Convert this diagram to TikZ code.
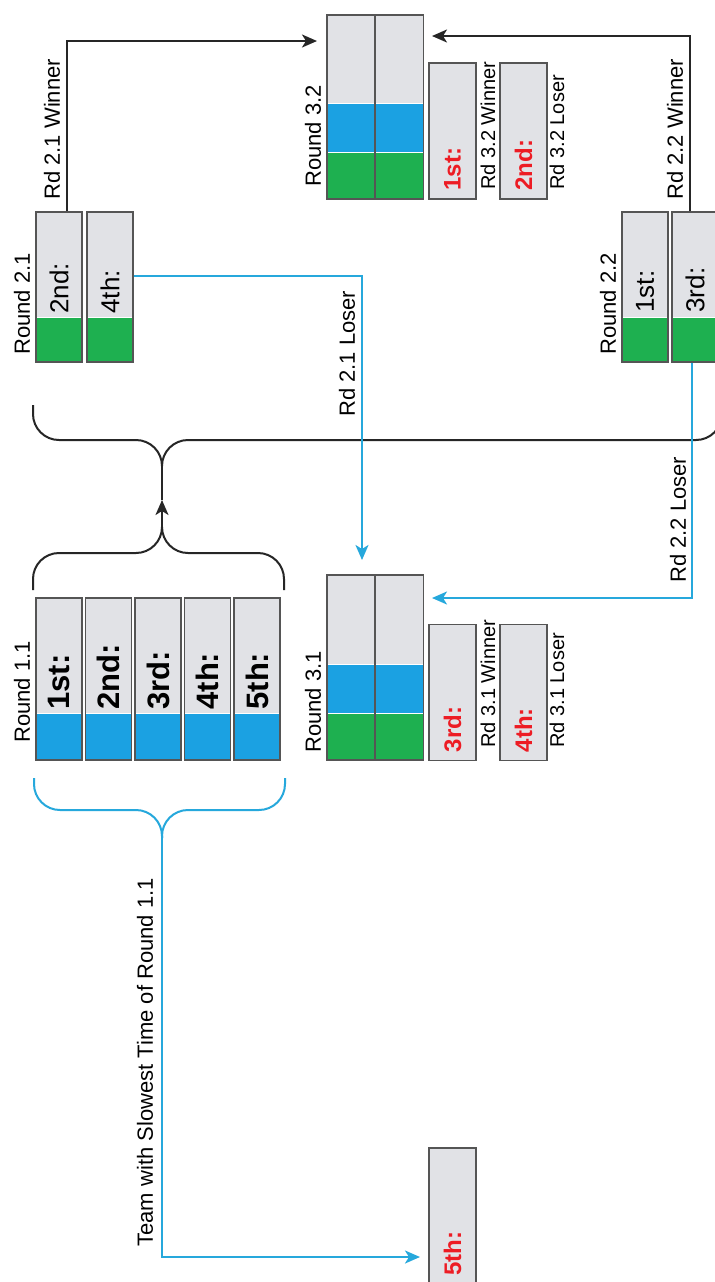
\documentclass[tikz,border=0pt]{standalone}
\usepackage{fontspec}
\setmainfont{Liberation Sans}
\usetikzlibrary{arrows.meta}
\definecolor{boxgray}{RGB}{225, 226, 230}
\definecolor{edgegray}{RGB}{85, 85, 85}
\definecolor{teamblue}{RGB}{27, 161, 226}
\definecolor{teamgreen}{RGB}{30, 176, 80}
\definecolor{linkblue}{RGB}{38, 168, 220}
\definecolor{placered}{RGB}{237, 28, 36}

\tikzset{
    slot/.style={draw=edgegray, line width=0.9pt, fill=boxgray, inner sep=0pt, minimum width=23pt},
    band/.style 2 args={path picture={
        \fill[#1] (path picture bounding box.south west) rectangle ([yshift=#2]path picture bounding box.south east);
        \draw[white, line width=0.5pt] ([yshift=#2]path picture bounding box.south west) -- ([yshift=#2]path picture bounding box.south east);
    }},
    duoband/.style={path picture={
        \fill[teamblue] (path picture bounding box.south west) rectangle ([yshift=48pt]path picture bounding box.south east);
        \fill[teamgreen] (path picture bounding box.south west) rectangle ([yshift=23.5pt]path picture bounding box.south east);
        \draw[white, line width=0.5pt] ([yshift=48pt]path picture bounding box.south west) -- ([yshift=48pt]path picture bounding box.south east);
        \draw[white, line width=0.5pt] ([yshift=23.5pt]path picture bounding box.south west) -- ([yshift=23.5pt]path picture bounding box.south east);
    }},
    turned/.style={rotate=90, anchor=west, inner sep=0pt},
    tag/.style={turned, font=\fontsize{11}{13}\selectfont},
    note/.style={turned, font=\fontsize{10}{12}\selectfont},
    seat/.style={turned, font=\fontsize{13}{15}\selectfont},
    heat/.style={turned, font=\bfseries\fontsize{15.5}{17}\selectfont},
    prize/.style={turned, text=placered, font=\bfseries\fontsize{12}{14}\selectfont},
    winline/.style={draw=black!85, line width=1pt, -{Stealth[length=7.5pt, width=6.5pt, inset=2pt]}},
    loseline/.style={draw=linkblue, line width=1pt, -{Stealth[length=7.5pt, width=6.5pt, inset=2pt]}},
    brace/.style={draw=black!85, line width=1pt, rounded corners=13pt},
}

\begin{document}
\begin{tikzpicture}[x=0.5pt, y=-0.5pt]
\path[use as bounding box, fill=white] (0,0) rectangle (715,1282);

% Round 1.1
\foreach \n/\x/\place in {1/59/1st:, 2/108.5/2nd:, 3/158/3rd:, 4/207.5/4th:, 5/257/5th:} {
    \node[slot, band={teamblue}{23.5pt}, minimum height=81pt] (r11-\n) at (\x,679) {};
    \node[heat] (r11-\n-t) at ([yshift=25.5pt]r11-\n.south) {\place};
}
\node[tag] (r11-name) at (22,743) {Round 1.1};

% Round 2.1 and Round 2.2
\foreach \n/\x/\place in {1/59/2nd:, 2/110/4th:} {
    \node[slot, band={teamgreen}{22.5pt}, minimum height=75pt] (r21-\n) at (\x,287) {};
    \node[seat] (r21-\n-t) at ([yshift=24.5pt]r21-\n.south) {\place};
}
\foreach \n/\x/\place in {1/645/1st:, 2/695/3rd:} {
    \node[slot, band={teamgreen}{22.5pt}, minimum height=75pt] (r22-\n) at (\x,287) {};
    \node[seat] (r22-\n-t) at ([yshift=25pt]r22-\n.south) {\place};
}
\node[tag] (r21-name) at (22,355) {Round 2.1};
\node[tag] (r22-name) at (608,355) {Round 2.2};

% Round 3.1 and Round 3.2
\foreach \n/\x in {1/351, 2/399.5} {
    \node[slot, duoband, minimum width=24pt, minimum height=92pt] (r32-\n) at (\x,107) {};
    \node[slot, duoband, minimum width=24pt, minimum height=92.5pt] (r31-\n) at (\x,667.5) {};
}
\node[tag] (r32-name) at (313,187) {Round 3.2};
\node[tag] (r31-name) at (313,753) {Round 3.1};

% Places
\foreach \nm/\x/\y/\place in {p1/452.5/131/1st:, p2/523.5/131/2nd:, p3/452.5/692.5/3rd:, p4/523.5/692.5/4th:, p5/452.5/1216/5th:} {
    \node[slot, minimum width=23.5pt, minimum height=68pt] (\nm) at (\x,\y) {};
    \node[prize] (\nm-t) at ([yshift=4.5pt]\nm.south) {\place};
}
\node[note] (p1-note) at (488,190) {Rd 3.2 Winner};
\node[note] (p2-note) at (557,190) {Rd 3.2 Loser};
\node[note] (p3-note) at (488,748) {Rd 3.1 Winner};
\node[note] (p4-note) at (557,748) {Rd 3.1 Loser};

% Brackets
\coordinate (join-top) at (162,466);
\coordinate (lift) at (162,500);
\coordinate (join-mid) at (162,527);
\coordinate (join-low) at (162,838);
\draw[brace] (33,405) |- (162,440) -- (join-top);
\draw[brace] (join-top) -- (162,440) -| (722,405);
\draw[brace] (33,590) |- (162,553) -- (join-mid);
\draw[brace] (join-mid) -- (162,553) -| (284,590);
\draw[winline] (join-mid) -- (lift);
\draw[draw=black!85, line width=1pt] (lift) -- (join-top);
\draw[brace, draw=linkblue] (34,778) |- (162,810) -- (join-low);
\draw[brace, draw=linkblue] (join-low) -- (162,810) -| (285,778);

% Winners and losers
\coordinate (tip32w) at (317,41);
\coordinate (tip32e) at (432,36);
\coordinate (tip31n) at (362,560);
\coordinate (tip31e) at (432,598);
\coordinate (tip5) at (420,1257);
\draw[winline] ([xshift=4pt]r21-1.north) |- (tip32w);
\draw[winline] ([xshift=-2.5pt]r22-2.north) |- (tip32e);
\draw[loseline] ([yshift=5.5pt]r21-2.east) -| (tip31n);
\draw[loseline] ([xshift=-1.5pt]r22-2.south) |- (tip31e);
\draw[loseline] (join-low) |- (tip5);
\node[tag] (w21) at (52,200) {Rd 2.1 Winner};
\node[tag] (w22) at (675,200) {Rd 2.2 Winner};
\node[tag] (l21) at (347,417) {Rd 2.1 Loser};
\node[tag] (l22) at (678,583) {Rd 2.2 Loser};
\node[tag] (slow) at (145,1247) {Team with Slowest Time of Round 1.1};
\end{tikzpicture}
\end{document}
